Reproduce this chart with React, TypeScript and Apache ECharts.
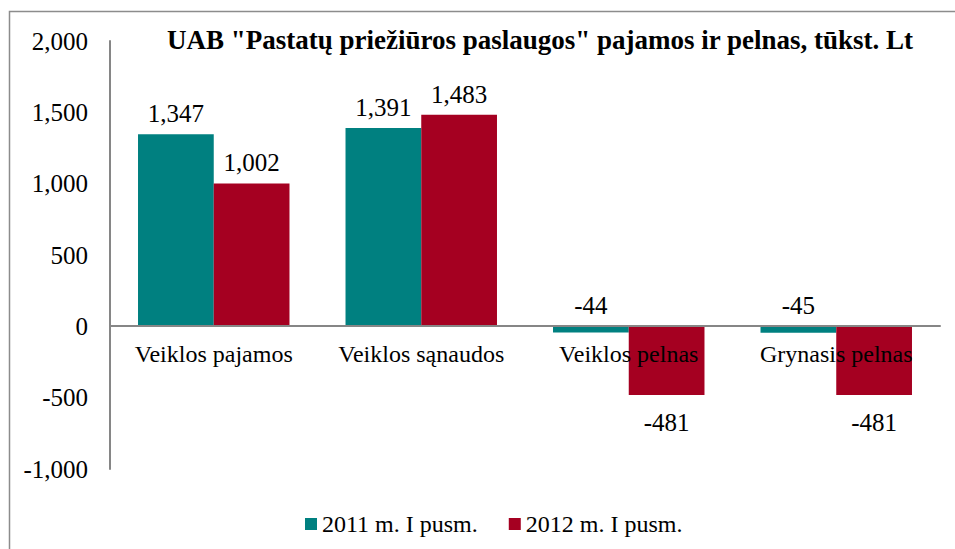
import React, { useEffect, useRef } from "react";
import * as echarts from "echarts";

const categories = ["Veiklos pajamos", "Veiklos sąnaudos", "Veiklos pelnas", "Grynasis pelnas"];
const series2011 = [1347, 1391, -44, -45];
const series2012 = [1002, 1483, -481, -481];
const seriesNames = ["2011 m. I pusm.", "2012 m. I pusm."];
const titleText = 'UAB "Pastatų priežiūros paslaugos" pajamos ir pelnas, tūkst. Lt';

const FONT = '"Liberation Serif", "Times New Roman", serif';
const FS = 25;
const fmt = (v: number) => v.toLocaleString("en-US");

export default function App() {
  const ref = useRef<HTMLDivElement>(null);
  useEffect(() => {
    if (!ref.current) return;
    const chart = echarts.init(ref.current, undefined, { renderer: "svg" });
    const mkLabel = (vals: number[]) =>
      vals.map((v) => ({
        value: v,
        label:
          v < -100
            ? { show: true, position: "bottom", distance: 15 }
            : { show: true, position: "top", distance: 8 },
      }));
    chart.setOption({
      animation: false,
      textStyle: { fontFamily: FONT },
      graphic: [
        {
          type: "rect",
          shape: { x: 9.5, y: 11.5, width: 1000, height: 600 },
          style: { fill: "none", stroke: "#8c8c8c", lineWidth: 1.5 },
          silent: true,
        },
      ],
      title: {
        text: titleText,
        left: 535,
        textAlign: "center",
        top: 21,
        textStyle: { fontFamily: FONT, fontWeight: "bold", fontSize: 27, color: "#000" },
      },
      legend: {
        bottom: 8,
        left: 300,
        itemWidth: 12,
        itemHeight: 12,
        itemGap: 31,
        icon: "rect",
        textStyle: { fontFamily: FONT, fontSize: 24, color: "#000" },
        data: seriesNames,
      },
      grid: { left: 110, right: 15, top: 41, bottom: 80, containLabel: false },
      xAxis: {
        type: "category",
        data: categories,
        z: 10,
        offset: -143,
        axisLine: { onZero: false, lineStyle: { color: "#868686", width: 2 } },
        axisTick: { show: false },
        axisLabel: { interval: 0, margin: 16, fontFamily: FONT, fontSize: 24, color: "#000" },
      },
      yAxis: {
        type: "value",
        min: -1000,
        max: 2000,
        interval: 500,
        axisLine: { show: true, lineStyle: { color: "#868686", width: 2 } },
        axisTick: { show: false },
        splitLine: { show: false },
        axisLabel: {
          margin: 22,
          fontFamily: FONT,
          fontSize: FS,
          color: "#000",
          formatter: (v: number) => fmt(v),
        },
      },
      series: [
        {
          name: seriesNames[0],
          type: "bar",
          data: mkLabel(series2011),
          barGap: "0%",
          barCategoryGap: "27%",
          itemStyle: { color: "#008080" },
          label: { fontFamily: FONT, fontSize: FS, color: "#000", formatter: (p: any) => fmt(p.value) },
        },
        {
          name: seriesNames[1],
          type: "bar",
          data: mkLabel(series2012),
          barGap: "0%",
          barCategoryGap: "27%",
          itemStyle: { color: "#A50021" },
          label: { fontFamily: FONT, fontSize: FS, color: "#000", formatter: (p: any) => fmt(p.value) },
        },
      ],
    });
    return () => chart.dispose();
  }, []);
  return (
    <div
      ref={ref}
      style={{ position: "fixed", left: 0, top: 0, width: 955, height: 549, background: "#fff" }}
    />
  );
}
